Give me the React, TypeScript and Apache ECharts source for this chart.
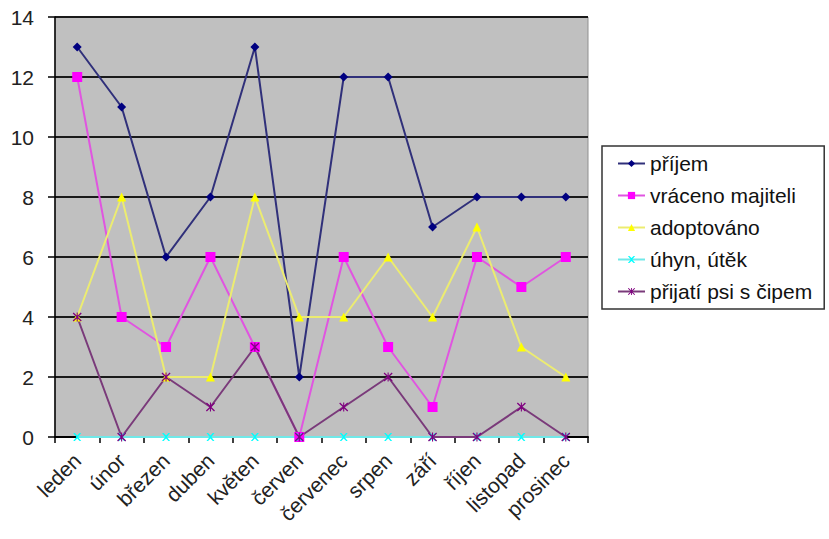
import React, { useEffect, useRef } from "react";
import * as echarts from "echarts";

const categories = ["leden", "únor", "březen", "duben", "květen", "červen", "červenec", "srpen", "září", "říjen", "listopad", "prosinec"];
const prijem = [13, 11, 6, 8, 13, 2, 12, 12, 7, 8, 8, 8];
const vraceno = [12, 4, 3, 6, 3, 0, 6, 3, 1, 6, 5, 6];
const adoptovano = [4, 8, 2, 2, 8, 4, 4, 6, 4, 7, 3, 2];
const uhyn = [0, 0, 0, 0, 0, 0, 0, 0, 0, 0, 0, 0];
const cipem = [4, 0, 2, 1, 3, 0, 1, 2, 0, 0, 1, 0];
const yTicks = { min: 0, max: 14, interval: 2 };

const FONT = "'Liberation Sans', Arial, sans-serif";
const XPATH = "path://M0,0L2,0L5,3L8,0L10,0L6,5L10,10L8,10L5,7L2,10L0,10L4,5Z";
const STARPATH = "path://M0,1L1,0L5,4L9,0L10,1L6,5L10,9L9,10L5,6L1,10L0,9L4,5ZM4.4,0L5.6,0L5.6,10L4.4,10Z";

export default function App() {
  const ref = useRef<HTMLDivElement>(null);
  useEffect(() => {
    if (!ref.current) return;
    const chart = echarts.init(ref.current, undefined, { renderer: "svg" });
    const mk = (name: string, data: number[], color: string, lineColor: string, symbol: string, size: number) => ({
      name,
      type: "line",
      data,
      symbol,
      symbolSize: size,
      itemStyle: { color },
      lineStyle: { color: lineColor, width: 2 },
      emphasis: { disabled: true },
    });
    chart.setOption({
      animation: false,
      grid: {
        left: 55,
        top: 17,
        right: 241,
        bottom: 102,
        show: true,
        backgroundColor: "#c0c0c0",
        borderColor: "#909090",
        borderWidth: 1,
      },
      legend: {
        orient: "vertical",
        left: 602,
        top: 146,
        borderColor: "#333",
        borderWidth: 1.5,
        padding: [7, 12, 7, 15],
        itemGap: 11,
        itemWidth: 27,
        itemHeight: 9,
        textStyle: { fontSize: 21, color: "#111", fontFamily: FONT },
        data: ["příjem", "vráceno majiteli", "adoptováno", "úhyn, útěk", "přijatí psi s čipem"],
      },
      xAxis: {
        type: "category",
        data: categories,
        boundaryGap: true,
        z: 3,
        axisLine: { lineStyle: { color: "#000", width: 2 } },
        axisTick: { show: true, alignWithLabel: false, length: 6, lineStyle: { color: "#000", width: 1.5 } },
        axisLabel: { rotate: 45, fontSize: 21, color: "#222", fontFamily: FONT, margin: 20, interval: 0 },
      },
      yAxis: {
        type: "value",
        min: yTicks.min,
        max: yTicks.max,
        interval: yTicks.interval,
        axisLine: { show: true, lineStyle: { color: "#000", width: 1.5 } },
        axisTick: { show: true, length: 7, lineStyle: { color: "#000", width: 1.5 } },
        axisLabel: { fontSize: 21, color: "#222", fontFamily: FONT, margin: 21 },
        splitLine: { show: true, lineStyle: { color: "#1a1a1a", width: 2 } },
      },
      series: [
        mk("příjem", prijem, "#000080", "#30307a", "diamond", 9),
        mk("vráceno majiteli", vraceno, "#ff00ff", "#e055e0", "rect", 10),
        mk("adoptováno", adoptovano, "#ffff00", "#ecec70", "triangle", 9),
        mk("úhyn, útěk", uhyn, "#00ffff", "#70e8e8", XPATH, 8),
        mk("přijatí psi s čipem", cipem, "#800080", "#7a3a7a", STARPATH, 9),
      ],
    });
    return () => chart.dispose();
  }, []);
  return <div ref={ref} style={{ position: "fixed", left: 0, top: 0, width: 829, height: 539, background: "#fff" }} />;
}
